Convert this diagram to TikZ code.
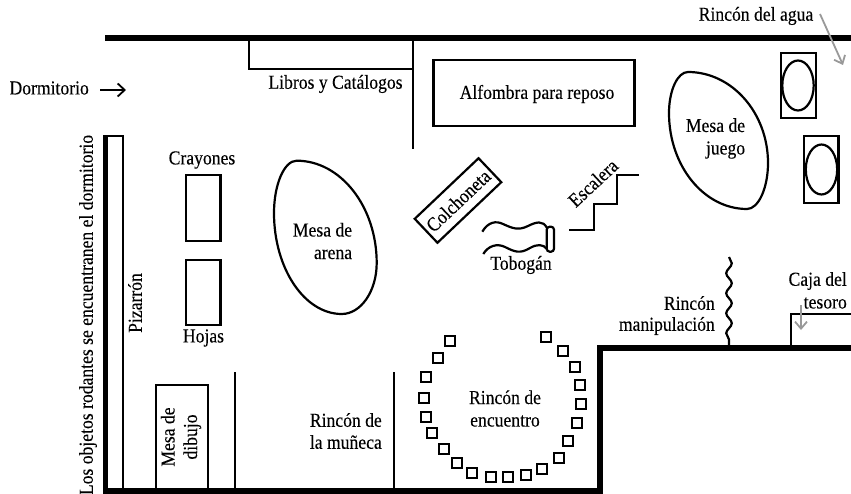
\documentclass[tikz,border=0pt]{standalone}
\usepackage{fontspec}
\setmainfont[FakeStretch=0.89,FakeBold=0.12]{Liberation Serif}
\usetikzlibrary{decorations.pathmorphing,arrows.meta}
\tikzset{
  wall/.style={line width=5.5pt},
  thin wall/.style={line width=2.2pt},
  obj/.style={line width=2.2pt},
  lbl/.style={inner sep=0pt,font=\fontsize{19.8}{22.5}\selectfont,align=center,text=black},
  seat/.style={draw,line width=1.7pt,minimum size=10pt,inner sep=0pt},
  grayarrow/.style={draw=black!40,line width=1.8pt,-{Straight Barb[length=7pt,width=12pt]}},
  blackarrow/.style={line width=1.8pt,-{Straight Barb[length=7pt,width=13pt]}}
}
\begin{document}
\begin{tikzpicture}[x=1pt,y=-1pt]
\useasboundingbox (0,0) rectangle (851,494);
% walls
\draw[wall] (105,38) -- (851,38);
\draw[wall] (851,348) -- (600,348) -- (600,491) -- (105.5,491) -- (105.5,135);
\draw[thin wall] (105.5,136) -- (122.7,136) -- (122.7,491);
% bookshelf
\draw[obj] (249,40) -- (249,69) -- (413,69);
\draw[obj] (413,38) -- (413,149);
% rugs and tables
\node[draw,obj,minimum width=201pt,minimum height=66pt,inner sep=0pt] (alfombra) at (534,93) {};
\node[lbl] (alfombraT) at (537,94) {Alfombra para reposo};
\node[lbl] (libros) at (335.5,84) {Libros y Catálogos};
\node[lbl] (rincagua) at (756,16) {Rincón del agua};
\node[lbl,anchor=east] (dorm) at (89,88) {Dormitorio};
\coordinate (dormA) at (100,90);
\coordinate (dormB) at (126,90);
\draw[blackarrow] (dormA) -- (dormB);
\coordinate (aguaA) at (820,14);
\coordinate (aguaB) at (843,65);
\draw[grayarrow] (aguaA) -- (aguaB);
% water corner
\draw[obj] (781,53) rectangle (816,118);
\draw[obj] (798,85.5) ellipse (15.7 and 25);
\draw[obj] (804,136) rectangle (838.5,203);
\draw[obj] (821.5,169.5) ellipse (15.7 and 25);
% Mesa de juego
\draw[obj] (688,72) .. controls (732,72) and (768,113) .. (768,163) .. controls (768,188) and (758.5,209) .. (747,209) .. controls (704,209) and (669,166) .. (669,113) .. controls (669,90.5) and (677.5,72) .. cycle;
\node[lbl,align=right] (juego) at (715.5,138.5) {Mesa de\\juego};
% Mesa de arena
\draw[obj] (296.7,160.7) .. controls (340.7,160.7) and (376.7,206.7) .. (376.7,263) .. controls (376.7,291) and (361,314) .. (341.7,314) .. controls (304.5,314) and (274,268.5) .. (274,213) .. controls (274,184.4) and (284.2,160.7) .. cycle;
\node[lbl,align=right] (arena) at (322.5,241) {Mesa de\\arena};
% crayones & hojas
\node[lbl] (cray) at (202,160) {Crayones};
\draw[obj] (186,175) rectangle (220.5,241);
\draw[obj] (186,260) rectangle (220.5,325);
\node[lbl] (hojas) at (203.5,338) {Hojas};
\node[lbl,rotate=90] (piz) at (135,303) {Pizarrón};
\node[lbl,rotate=90] (rod) at (88,315) {Los objetos rodantes se encuentranen el dormitorio};
% Mesa de dibujo
\draw[obj] (156,385) rectangle (207.7,489);
\node[lbl,rotate=90] (dibujo) at (181,437) {Mesa de\\dibujo};
\draw[obj] (235,372) -- (235,490);
\draw[obj] (394,372) -- (394,490);
\node[lbl,anchor=east] (mun1) at (382,420) {Rincón de};
\node[lbl,anchor=east] (mun2) at (382,442) {la muñeca};
% colchoneta
\node[draw,obj,rotate=43.5,minimum width=88pt,minimum height=33pt,inner sep=0pt] (colch) at (458,200.5) {};
\node[lbl,rotate=43.5] (colchT) at (458.3,200.7) {Colchoneta};
% tobogan
\draw[obj] (482.3,231.7) .. controls (488,222) and (496,220.5) .. (503,224) .. controls (512,228) and (518,231) .. (528,226) .. controls (536,222) and (543,220) .. (547,228);
\draw[obj] (483.3,254) .. controls (488,246) and (497,243) .. (505,247) .. controls (515,252) and (520,254) .. (530,248) .. controls (537,244) and (543,244) .. (547,249);
\draw[obj,rounded corners=3pt] (546.7,226.7) rectangle (554,251.7);
\node[lbl] (tobo) at (521,265) {Tobogán};
% escalera
\coordinate (escA) at (569.3,230);
\coordinate (escB) at (639,175);
\draw[obj] (escA) -- (594.3,230) -- (594.3,204) -- (617.3,204) -- (617.3,175) -- (escB);
\node[lbl,rotate=43] (esc) at (593,183) {Escalera};
% Rincon manipulacion
\node[lbl,anchor=east] (rm1) at (715,303) {Rincón};
\node[lbl,anchor=east] (rm2) at (715,326) {manipulación};
\coordinate (waveA) at (729,257);
\coordinate (waveB) at (729,347);
\draw[obj,decorate,decoration={snake,segment length=20pt,amplitude=2.8pt}] (waveA) -- (waveB);
% Caja del tesoro
\draw[obj] (851,314) -- (790.7,314) -- (790.7,347);
\node[lbl,anchor=east] (caja1) at (847,281) {Caja del};
\node[lbl,anchor=east] (caja2) at (847,303) {tesoro};
\coordinate (cajaA) at (801,305);
\coordinate (cajaB) at (801,330);
\draw[grayarrow] (cajaA) -- (cajaB);
% Rincon de encuentro
\node[lbl] (enc) at (505,408.5) {Rincón de\\encuentro};
\foreach \i/\zx/\zy in {1/151/64,2/115/113,3/79/171,4/71/234,5/79/290,6/95/340,7/132/388,8/172/430,9/217/458,10/274/472,11/325/472,12/379/464,13/427/446,14/478/415,15/503/362,16/530/309,17/543/252,18/539/195,19/525/142,20/488/94,21/438/52}
  \node[seat] (s\i) at ({400+\zx/3},{320+\zy/3}) {};
\end{tikzpicture}
\end{document}
